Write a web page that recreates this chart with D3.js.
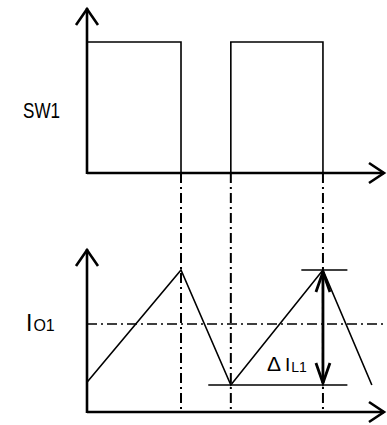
<!DOCTYPE html>
<html>
<head>
<meta charset="utf-8">
<script src="https://cdn.jsdelivr.net/npm/d3@7"></script>
<style>
  html, body { margin: 0; padding: 0; background: #fff; }
  text { font-family: "Liberation Sans", Arial, sans-serif; fill: #000; }
</style>
</head>
<body>
<svg class="chart-svg"></svg>
<script>
// switch edges (time units) and the SW1 state after each edge
const switchTimes = [0, 1, 1.53, 2.51];
const switchStates = [1, 0, 1, 0];

// inductor current corners
const currentTimes = [0, 1, 1.53, 2.51, 3.03];
const currentValues = [0.21, 1, 0.19, 1, 0.19];

// average output current and ripple markers
const ioLevel = 0.62;
const ripplePeak = 1;
const rippleValley = 0.19;
const rippleTopSpan = [2.28, 2.77];
const rippleBottomSpan = [1.29, 2.77];
const rippleTime = 2.51;

const W = 387, H = 425;
const svg = d3.select(".chart-svg").attr("width", W).attr("height", H);

const x = d3.scaleLinear().domain([0, 3.17]).range([87, 385]);
const ySw = d3.scaleLinear().domain([0, 1]).range([173, 42]);
const yI = d3.scaleLinear().domain([0, 1]).range([412, 270]);

const dashDot = "10,4,2,4";

// vertical dash-dot guide lines at the switching instants
svg.append("g")
    .selectAll("line")
    .data(switchTimes.slice(1))
    .join("line")
    .attr("x1", d => x(d)).attr("x2", d => x(d))
    .attr("y1", ySw(0)).attr("y2", yI(0))
    .attr("stroke", "#000")
    .attr("stroke-width", 2)
    .attr("stroke-dasharray", dashDot);

// average current line
svg.append("line")
    .attr("x1", x(0)).attr("x2", W)
    .attr("y1", yI(ioLevel)).attr("y2", yI(ioLevel))
    .attr("stroke", "#000")
    .attr("stroke-width", 1.5)
    .attr("stroke-dasharray", dashDot);

// SW1 waveform
const swPts = [[0, 0]];
switchTimes.forEach((t, i) => {
    const prev = i === 0 ? 0 : switchStates[i - 1];
    swPts.push([t, prev]);
    swPts.push([t, switchStates[i]]);
});
svg.append("path")
    .attr("d", d3.line().x(d => x(d[0])).y(d => ySw(d[1]))(swPts))
    .attr("fill", "none")
    .attr("stroke", "#000")
    .attr("stroke-width", 1.6);

// current waveform
svg.append("path")
    .attr("d", d3.line().x((d, i) => x(currentTimes[i])).y(d => yI(d))(currentValues))
    .attr("fill", "none")
    .attr("stroke", "#000")
    .attr("stroke-width", 1.6);

// ripple marker lines
[[rippleTopSpan, ripplePeak], [rippleBottomSpan, rippleValley]].forEach(([span, v]) => {
    svg.append("line")
        .attr("x1", x(span[0])).attr("x2", x(span[1]))
        .attr("y1", yI(v)).attr("y2", yI(v))
        .attr("stroke", "#000")
        .attr("stroke-width", 1.6);
});

// axes with open arrowheads
function axisLines(x0, y0, yTop) {
    const g = svg.append("g")
        .attr("fill", "none")
        .attr("stroke", "#000")
        .attr("stroke-width", 2.6)
        .attr("stroke-linejoin", "miter");
    g.append("line").attr("x1", x0).attr("y1", y0 + 1).attr("x2", x0).attr("y2", yTop);
    g.append("path").attr("d", `M${x0 - 11},${yTop + 17}L${x0},${yTop + 1}L${x0 + 11},${yTop + 17}`);
    g.append("line").attr("x1", x0).attr("y1", y0).attr("x2", 384).attr("y2", y0);
    g.append("path").attr("d", `M369,${y0 - 10}L384,${y0}L369,${y0 + 10}`);
}
axisLines(x(0), ySw(0), 8);
axisLines(x(0), yI(0), 249);

// double arrow for the ripple
const ra = svg.append("g")
    .attr("fill", "none")
    .attr("stroke", "#000")
    .attr("stroke-width", 2.8);
const rx = x(rippleTime), rTop = yI(ripplePeak) + 2, rBot = yI(rippleValley) - 2;
ra.append("line").attr("x1", rx).attr("x2", rx).attr("y1", rTop).attr("y2", rBot);
ra.append("path").attr("d", `M${rx - 7},${rTop + 20}L${rx},${rTop}L${rx + 7},${rTop + 20}`);
ra.append("path").attr("d", `M${rx - 7},${rBot - 20}L${rx},${rBot}L${rx + 7},${rBot - 20}`);

// labels
svg.append("text")
    .attr("x", 23).attr("y", 118)
    .attr("font-size", 22)
    .attr("textLength", 37).attr("lengthAdjust", "spacingAndGlyphs")
    .text("SW1");

const io = svg.append("text").attr("x", 26).attr("y", 331).attr("font-size", 23);
io.append("tspan").text("I");
io.append("tspan").attr("font-size", 16).attr("dx", 1).text("O1");

const dl = svg.append("text").attr("x", 267).attr("y", 371).attr("font-size", 19);
dl.append("tspan").attr("font-size", 21).text("Δ");
dl.append("tspan").attr("dx", 4).text("I");
dl.append("tspan").attr("font-size", 14).attr("dx", 1).attr("dy", 1).text("L1");
</script>
</body>
</html>
